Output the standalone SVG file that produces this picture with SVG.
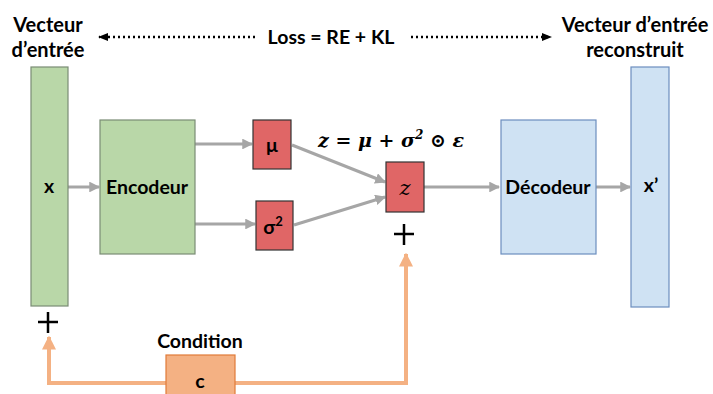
<svg xmlns="http://www.w3.org/2000/svg" width="713" height="394" viewBox="0 0 713 394">
<style>
text{font-family:Lato,"Open Sans","Liberation Sans",sans-serif;font-weight:bold;fill:#000}
.lbl{font-size:19.5px}
.ttl{font-size:20px}
.green{fill:#b9d7a8;stroke:#7a8c75;stroke-width:1.2}
.red{fill:#e06666;stroke:#333;stroke-width:1.2}
.blue{fill:#cfe2f3;stroke:#6c8ebf;stroke-width:1.2}
.orange{fill:#f4b183;stroke:#e07b39;stroke-width:1.2}
.conn{stroke:#a6a6a6;stroke-width:3;fill:none}
.cond{stroke:#f4b183;stroke-width:4;fill:none}
.dot{stroke:#000;stroke-width:2.5;stroke-dasharray:2 3;fill:none}
.plus{stroke:#000;stroke-width:2.5}
.math{font-family:'DejaVu Serif','Liberation Serif',serif;font-style:italic}
</style>
<defs>
<marker id="ag" viewBox="0 0 10 10" refX="9" refY="5" markerWidth="3.6" markerHeight="3.6" orient="auto"><path d="M0,0 L10,5 L0,10 z" fill="#a6a6a6"/></marker>
<marker id="ao" viewBox="0 0 10 10" refX="9" refY="5" markerWidth="3.5" markerHeight="3.5" orient="auto"><path d="M0,0 L10,5 L0,10 z" fill="#f4b183"/></marker>
<marker id="ab" viewBox="0 0 10 10" refX="9" refY="5" markerWidth="4" markerHeight="4" orient="auto"><path d="M0,1 L10,5 L0,9 z" fill="#000"/></marker>
</defs>
<g id="connectors">
<line class="conn" x1="68" y1="187" x2="99" y2="187" marker-end="url(#ag)"/>
<line class="conn" x1="195" y1="144" x2="252" y2="144" marker-end="url(#ag)"/>
<line class="conn" x1="195" y1="224" x2="255" y2="224" marker-end="url(#ag)"/>
<line class="conn" x1="292" y1="145" x2="385" y2="182" marker-end="url(#ag)"/>
<line class="conn" x1="294" y1="225" x2="385" y2="197" marker-end="url(#ag)"/>
<line class="conn" x1="424" y1="187" x2="499" y2="187" marker-end="url(#ag)"/>
<line class="conn" x1="596" y1="187" x2="630" y2="187" marker-end="url(#ag)"/>
<polyline class="cond" points="166,383 49,383 49,337" marker-end="url(#ao)"/>
<polyline class="cond" points="235,383 406,383 406,254" marker-end="url(#ao)"/>
<line class="dot" x1="255" y1="37" x2="99" y2="37" marker-end="url(#ab)"/>
<line class="dot" x1="411" y1="37" x2="551" y2="37" marker-end="url(#ab)"/>
</g>
<g id="title-left"><text class="ttl" x="48" y="32" text-anchor="middle">Vecteur</text><text class="ttl" x="48" y="57" text-anchor="middle">d’entrée</text></g>
<g id="loss"><text class="lbl" x="331" y="44" text-anchor="middle">Loss = RE + KL</text></g>
<g id="title-right"><text class="ttl" x="635" y="32" text-anchor="middle">Vecteur d’entrée</text><text class="ttl" x="635" y="57" text-anchor="middle">reconstruit</text></g>
<g id="x"><rect class="green" x="31" y="67" width="37" height="239"/><text class="lbl" x="49" y="193" text-anchor="middle">x</text></g>
<g id="plus-x"><line class="plus" x1="38" y1="322" x2="58" y2="322"/><line class="plus" x1="48" y1="312" x2="48" y2="333"/></g>
<g id="encodeur"><rect class="green" x="100" y="120" width="95" height="134"/><text class="lbl" x="147" y="194" text-anchor="middle">Encodeur</text></g>
<g id="mu"><rect class="red" x="253" y="120" width="38" height="49"/><text class="lbl" x="272" y="152" text-anchor="middle">μ</text></g>
<g id="sigma"><rect class="red" x="256" y="201" width="37" height="49"/><text class="lbl" x="273" y="234" text-anchor="middle">σ<tspan font-size="13" dy="-8">2</tspan></text></g>
<g id="formula"><text x="318" y="147" class="math" style="font-size:19px">z = μ + σ<tspan font-size="12" dy="-8">2</tspan><tspan dy="8"> ⊙ ε</tspan></text></g>
<g id="z"><rect class="red" x="386" y="162" width="38" height="50"/><text x="405" y="195" text-anchor="middle" class="math" style="font-size:21px;font-weight:normal">z</text></g>
<g id="plus-z"><line class="plus" x1="394" y1="234" x2="414" y2="234"/><line class="plus" x1="404" y1="224" x2="404" y2="245"/></g>
<g id="decodeur"><rect class="blue" x="501" y="120" width="95" height="134"/><text class="lbl" x="548" y="194" text-anchor="middle">Décodeur</text></g>
<g id="xprime"><rect class="blue" x="631" y="67" width="38" height="240"/><text class="lbl" x="651" y="192" text-anchor="middle">x’</text></g>
<g id="condition"><text class="lbl" x="200" y="348" text-anchor="middle">Condition</text><rect class="orange" x="166" y="355" width="69" height="42"/><text class="lbl" x="200" y="388" text-anchor="middle">c</text></g>
</svg>
